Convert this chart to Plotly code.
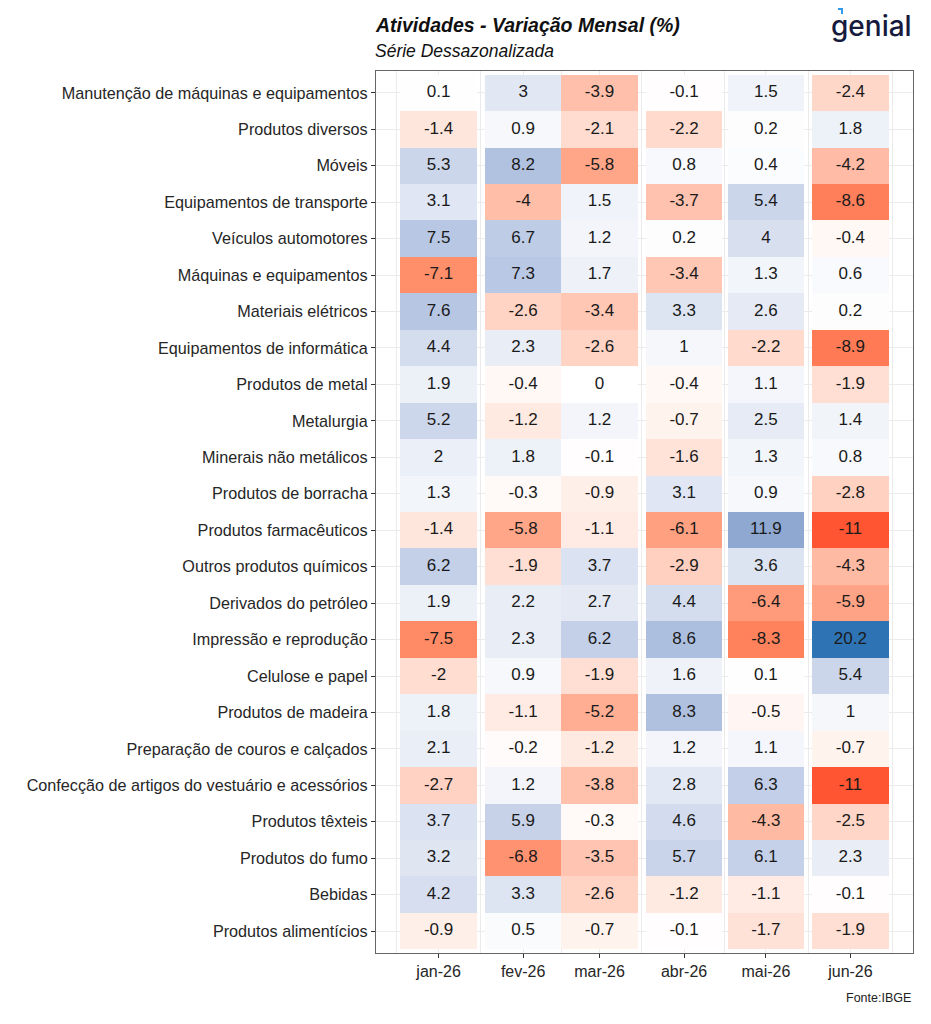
import plotly.graph_objects as go
from datetime import date, timedelta, datetime

# ---------------- data ----------------
activities = [
    "Manutenção de máquinas e equipamentos",
    "Produtos diversos",
    "Móveis",
    "Equipamentos de transporte",
    "Veículos automotores",
    "Máquinas e equipamentos",
    "Materiais elétricos",
    "Equipamentos de informática",
    "Produtos de metal",
    "Metalurgia",
    "Minerais não metálicos",
    "Produtos de borracha",
    "Produtos farmacêuticos",
    "Outros produtos químicos",
    "Derivados do petróleo",
    "Impressão e reprodução",
    "Celulose e papel",
    "Produtos de madeira",
    "Preparação de couros e calçados",
    "Confecção de artigos do vestuário e acessórios",
    "Produtos têxteis",
    "Produtos do fumo",
    "Bebidas",
    "Produtos alimentícios",
]
month_dates = ["2026-01-01", "2026-02-01", "2026-03-01", "2026-04-01", "2026-05-01", "2026-06-01"]
month_labels = ["jan-26", "fev-26", "mar-26", "abr-26", "mai-26", "jun-26"]

jan26 = [0.1, -1.4, 5.3, 3.1, 7.5, -7.1, 7.6, 4.4, 1.9, 5.2, 2, 1.3, -1.4, 6.2, 1.9, -7.5, -2, 1.8, 2.1, -2.7, 3.7, 3.2, 4.2, -0.9]
fev26 = [3, 0.9, 8.2, -4, 6.7, 7.3, -2.6, 2.3, -0.4, -1.2, 1.8, -0.3, -5.8, -1.9, 2.2, 2.3, 0.9, -1.1, -0.2, 1.2, 5.9, -6.8, 3.3, 0.5]
mar26 = [-3.9, -2.1, -5.8, 1.5, 1.2, 1.7, -3.4, -2.6, 0, 1.2, -0.1, -0.9, -1.1, 3.7, 2.7, 6.2, -1.9, -5.2, -1.2, -3.8, -0.3, -3.5, -2.6, -0.7]
abr26 = [-0.1, -2.2, 0.8, -3.7, 0.2, -3.4, 3.3, 1, -0.4, -0.7, -1.6, 3.1, -6.1, -2.9, 4.4, 8.6, 1.6, 8.3, 1.2, 2.8, 4.6, 5.7, -1.2, -0.1]
mai26 = [1.5, 0.2, 0.4, 5.4, 4, 1.3, 2.6, -2.2, 1.1, 2.5, 1.3, 0.9, 11.9, 3.6, -6.4, -8.3, 0.1, -0.5, 1.1, 6.3, -4.3, 6.1, -1.1, -1.7]
jun26 = [-2.4, 1.8, -4.2, -8.6, -0.4, 0.6, 0.2, -8.9, -1.9, 1.4, 0.8, -2.8, -11, -4.3, -5.9, 20.2, 5.4, 1, -0.7, -11, -2.5, 2.3, -0.1, -1.9]
series = [jan26, fev26, mar26, abr26, mai26, jun26]

# ---------------- styling ----------------
FONT = "Liberation Sans, Arial, sans-serif"
color_values = [-11, -8.6, -7.1, -5.8, -3.9, -2.6, -1.4, 0, 3, 6.2, 8.6, 11.9, 20.2]
color_hex = ["#FF5533", "#FF7F5A", "#FF8E6A", "#FFA588", "#FFBFAA", "#FFD4C5", "#FFE6DD",
             "#FFFFFF", "#E1E7F3", "#C4D0E8", "#ADBFDF", "#8EA8D2", "#2E74B5"]
all_vals = [v for s in series for v in s]
vmin, vmax = min(all_vals), max(all_vals)
colorscale = [[(v - vmin) / (vmax - vmin), c] for v, c in zip(color_values, color_hex)]

n = len(activities)
ypos = {a: n - i for i, a in enumerate(activities)}  # top row highest

# tile geometry (ggplot-like: width = resolution of date axis)
dts = [date.fromisoformat(d) for d in month_dates]
res_days = min((b - a).days for a, b in zip(dts[:-1], dts[1:]))
tile_ms = res_days * 86400000
lo = dts[0] - timedelta(days=res_days / 2)
hi = dts[-1] + timedelta(days=res_days / 2)
span = (hi - lo).days
pad = timedelta(days=0.05 * span)
x_range = [datetime.combine(lo, datetime.min.time()) - pad, datetime.combine(hi, datetime.min.time()) + pad]

# minor gridlines (midpoints, extended one step on each side)
step = dts[1] - dts[0]
ext = [dts[0] - step] + dts + [dts[-1] + step]
minor_vals = [datetime.combine(a, datetime.min.time()) + (b - a) / 2 for a, b in zip(ext[:-1], ext[1:])]

bx, by, bbase, bcol, btxt = [], [], [], [], []
for d, s in zip(month_dates, series):
    for a, v in zip(activities, s):
        bx.append(d)
        by.append(1)
        bbase.append(ypos[a] - 0.5)
        bcol.append(v)
        btxt.append(f"{v:g}")

# page offset compensation (body margin)
W, H = 931, 1024
L, T, R, B = 368, 63, 26, 79
plot_w = W - L - R
plot_h = H - T - B
OFF = 8
def px(x_page):
    return (x_page - OFF - L) / plot_w
def py(y_page):
    return 1 - (y_page - OFF - T) / plot_h

fig = go.Figure()
fig.add_trace(go.Bar(
    x=bx, y=by, base=bbase, width=[tile_ms] * len(bx),
    marker=dict(color=bcol, colorscale=colorscale, cmin=vmin, cmax=vmax, line=dict(width=0)),
    showlegend=False, hoverinfo="skip",
))
fig.add_trace(go.Scatter(
    x=bx, y=[b + 0.5 for b in bbase], text=btxt, mode="text",
    textfont=dict(family=FONT, size=17, color="#1A1A1A"),
    showlegend=False, hoverinfo="skip",
))

fig.update_layout(
    width=W, height=H,
    margin=dict(l=L, r=R, t=T, b=B),
    paper_bgcolor="white", plot_bgcolor="white",
    barmode="overlay", bargap=0,
    font=dict(family=FONT, color="#262626"),
    xaxis=dict(
        type="date", range=x_range,
        tickmode="array", tickvals=month_dates, ticktext=month_labels,
        tickfont=dict(size=16, color="#262626"),
        ticks="outside", ticklen=4, tickcolor="#333333", tickwidth=1,
        showgrid=True, gridcolor="#EBEBEB", gridwidth=1,
        minor=dict(tickmode="array", tickvals=minor_vals, showgrid=True,
                   gridcolor="#EBEBEB", gridwidth=0.6, ticks=""),
        showline=True, mirror=True, linecolor="#666666", linewidth=1.2,
        zeroline=False, fixedrange=True,
    ),
    yaxis=dict(
        range=[0.4, n + 0.6],
        tickmode="array", tickvals=[ypos[a] for a in activities], ticktext=activities,
        tickfont=dict(size=16.2, color="#262626"),
        ticks="outside", ticklen=4, tickcolor="#333333", tickwidth=1,
        showgrid=True, gridcolor="#EBEBEB", gridwidth=1,
        showline=True, mirror=True, linecolor="#666666", linewidth=1.2,
        zeroline=False, fixedrange=True,
    ),
)

fig.add_annotation(text="<b><i>Atividades - Variação Mensal (%)</i></b>", xref="paper", yref="paper",
                   x=px(373), y=py(25), xanchor="left", yanchor="middle", showarrow=False,
                   font=dict(family=FONT, size=19.5, color="#111111"))
fig.add_annotation(text="<i>Série Dessazonalizada</i>", xref="paper", yref="paper",
                   x=px(373), y=py(51), xanchor="left", yanchor="middle", showarrow=False,
                   font=dict(family=FONT, size=17.5, color="#111111"))
fig.add_annotation(text="genial", xref="paper", yref="paper",
                   x=px(914), y=py(26), xanchor="right", yanchor="middle", showarrow=False,
                   font=dict(family="Inter, Lato, sans-serif", size=28, weight=500, color="#161A3D"))
fig.add_shape(type="path", xref="paper", yref="paper",
              path=f"M {px(838)} {py(8)} L {px(843)} {py(8)} L {px(843)} {py(14)} L {px(841)} {py(14)} L {px(841)} {py(10)} L {px(838)} {py(10)} Z",
              fillcolor="#2E9BF0", line=dict(width=0))
fig.add_annotation(text="Fonte:IBGE", xref="paper", yref="paper",
                   x=px(913), y=py(998), xanchor="right", yanchor="middle", showarrow=False,
                   font=dict(family=FONT, size=12.5, color="#222222"))

fig.write_html("out.html")
